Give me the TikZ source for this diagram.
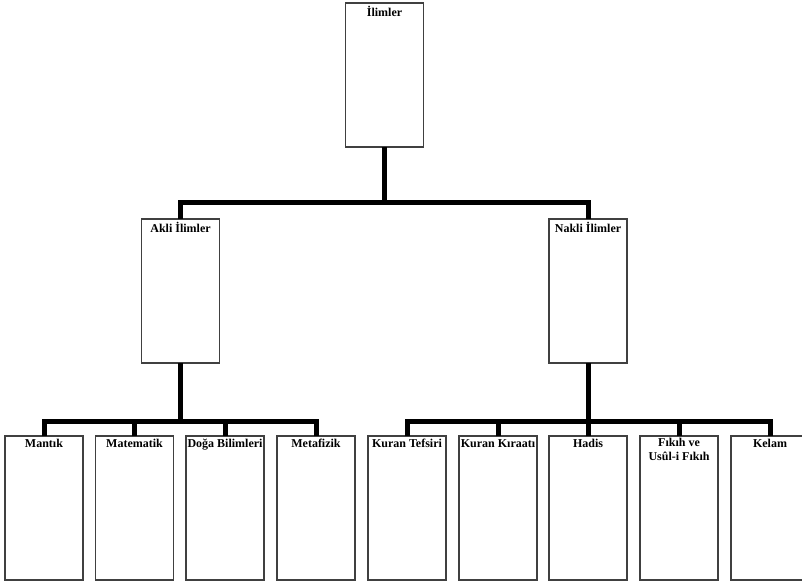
\documentclass[tikz,border=0pt]{standalone}
\usepackage{fontspec}
\setmainfont{Liberation Serif}
\begin{document}
\begin{tikzpicture}[x=1pt,y=-1pt,
  box/.style={draw=black!75,line width=1.1pt,fill=white,rectangle,minimum width=78pt,minimum height=144pt,inner sep=0pt,outer sep=0pt},
  lbl/.style={anchor=north,inner sep=0pt,font=\fontsize{12}{14}\selectfont\bfseries,align=center},
  bar/.style={line width=5pt,line join=miter,line cap=butt}]
\useasboundingbox (0,0) rectangle (802,584);
\clip (0,0) rectangle (802,584);
% boxes
\node[box] (ilim) at (384.5,75) {};
\node[box] (akli) at (180.5,291) {};
\node[box] (nakli) at (588,291) {};
\node[box] (mantik) at (44,508) {};
\node[box] (matem) at (134.5,508) {};
\node[box] (doga) at (225,508) {};
\node[box] (metaf) at (316,508) {};
\node[box] (tefsir) at (407,508) {};
\node[box] (kiraat) at (498,508) {};
\node[box] (hadis) at (588,508) {};
\node[box] (fikih) at (679,508) {};
\node[box] (kelam) at (770,508) {};
% junctions
\coordinate (j0) at (384.5,202);
\coordinate (j1) at (180.5,421);
\coordinate (j2) at (588,421);
% connectors
\draw[bar] (ilim.south) -- (j0);
\draw[bar] (akli.north) |- (j0);
\draw[bar] (nakli.north) |- (j0);
\draw[bar] (akli.south) -- (j1);
\draw[bar] (mantik.north) |- (j1);
\draw[bar] (matem.north) |- (j1);
\draw[bar] (doga.north) |- (j1);
\draw[bar] (metaf.north) |- (j1);
\draw[bar] (nakli.south) -- (j2);
\draw[bar] (tefsir.north) |- (j2);
\draw[bar] (kiraat.north) |- (j2);
\draw[bar] (hadis.north) |- (j2);
\draw[bar] (fikih.north) |- (j2);
\draw[bar] (kelam.north) |- (j2);
% labels
\node[lbl] (t0) at ([yshift=-3pt]ilim.north) {İlimler};
\node[lbl] (t1) at ([yshift=-3pt]akli.north) {Akli İlimler};
\node[lbl] (t2) at ([yshift=-3pt]nakli.north) {Nakli İlimler};
\node[lbl] (t3) at ([yshift=-3pt]mantik.north) {Mantık};
\node[lbl] (t4) at ([yshift=-3pt]matem.north) {Matematik};
\node[lbl] (t5) at ([yshift=-3pt]doga.north) {Doğa Bilimleri};
\node[lbl] (t6) at ([yshift=-3pt]metaf.north) {Metafizik};
\node[lbl] (t7) at ([yshift=-3pt]tefsir.north) {Kuran Tefsiri};
\node[lbl] (t8) at ([yshift=-3pt]kiraat.north) {Kuran Kıraatı};
\node[lbl] (t9) at ([yshift=-3pt]hadis.north) {Hadis};
\node[lbl] (t10) at ([yshift=-2pt]fikih.north) {Fıkıh ve\\Usûl-i Fıkıh};
\node[lbl] (t11) at ([yshift=-3pt]kelam.north) {Kelam};
\end{tikzpicture}
\end{document}
